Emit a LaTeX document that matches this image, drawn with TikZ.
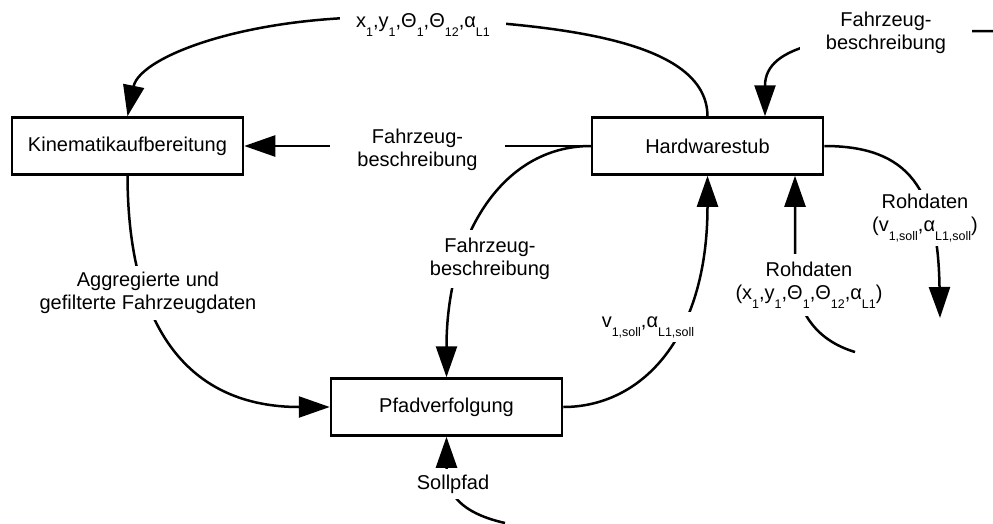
\documentclass[tikz,border=0pt]{standalone}
\usepackage{fontspec}
\setmainfont{Liberation Sans}
\usetikzlibrary{arrows.meta}
% lowered small index, set the way the drawing tool prints it
\newcommand\subtx[1]{\raisebox{-9pt}{\fontsize{12.5}{12.5}\selectfont #1}}
\begin{document}
\begin{tikzpicture}[x=1pt,y=-1pt,
  every node/.style={font=\fontsize{20}{23}\selectfont},
  block/.style={draw, line width=2.5pt, minimum width=231pt, minimum height=57pt, inner sep=0pt, fill=white},
  conn/.style={line width=2.5pt, -{Triangle[length=31pt,width=21pt]}},
  lbl/.style={fill=white, align=center, inner sep=4pt}]
\useasboundingbox (0,0) rectangle (993,523);

% processing blocks
\node[block] (kin) at (127.5,146) {Kinematikaufbereitung};
\node[block] (hw)  at (707.5,146) {Hardwarestub};
\node[block] (pf)  at (446.5,407) {Pfadverfolgung};

% free ends of the incoming signals
\coordinate (fzR) at (993,31);
\coordinate (rx)  at (855,352);
\coordinate (rv)  at (940,318);
\coordinate (sp)  at (505,523);

% connectors
\draw[conn] (hw.north) .. controls (707,40) and (560,25) .. (420,18)
            .. controls (260,10) and (140,55) .. (kin.north);
\draw[conn] (hw.west) -- (kin.east);
\draw[conn] (hw.west) .. controls (500,146) and (446.5,240) .. (pf.north);
\draw[conn] (kin.south) .. controls (128,330) and (190,407) .. (pf.west);
\draw[conn] (pf.east) .. controls (640,407) and (707.5,340) .. (hw.south);
\draw[conn] (fzR) .. controls (830,31) and (765,45) .. ([xshift=57.5pt]hw.north);
\draw[conn] (rx) .. controls (815,340) and (795,310) .. (795,270) -- ([xshift=87.5pt]hw.south);
\draw[conn] (hw.east) .. controls (910,146) and (938,190) .. (rv);
\draw[conn] (sp) .. controls (470,515) and (446.5,500) .. (446.5,470) -- (pf.south);

% connector labels
\node[lbl, inner xsep=16pt] (l1) at (423,25)
  {x\subtx{1},y\subtx{1},Θ\subtx{1},Θ\subtx{12},α\subtx{L1}};
\node[lbl, minimum width=175pt] (l2) at (417.5,150) {Fahrzeug-\\beschreibung};
\node[lbl, inner ysep=8pt] (l3) at (490,259) {Fahrzeug-\\beschreibung};
\node[lbl, inner ysep=6pt] (l4) at (148,293) {Aggregierte und\\gefilterte Fahrzeugdaten};
\node[lbl] (l5) at (648,327) {v\subtx{1,soll},α\subtx{L1,soll}};
\node[lbl, minimum width=172pt] (l6) at (886,33) {Fahrzeug-\\beschreibung};
\node[lbl, inner ysep=8pt] (l7) at (809,285)
  {Rohdaten\\(x\subtx{1},y\subtx{1},Θ\subtx{1},Θ\subtx{12},α\subtx{L1})};
\node[lbl] (l8) at (925,218) {Rohdaten\\(v\subtx{1,soll},α\subtx{L1,soll})};
\node[lbl, inner ysep=6pt] (l9) at (453,484) {Sollpfad};
\end{tikzpicture}
\end{document}
